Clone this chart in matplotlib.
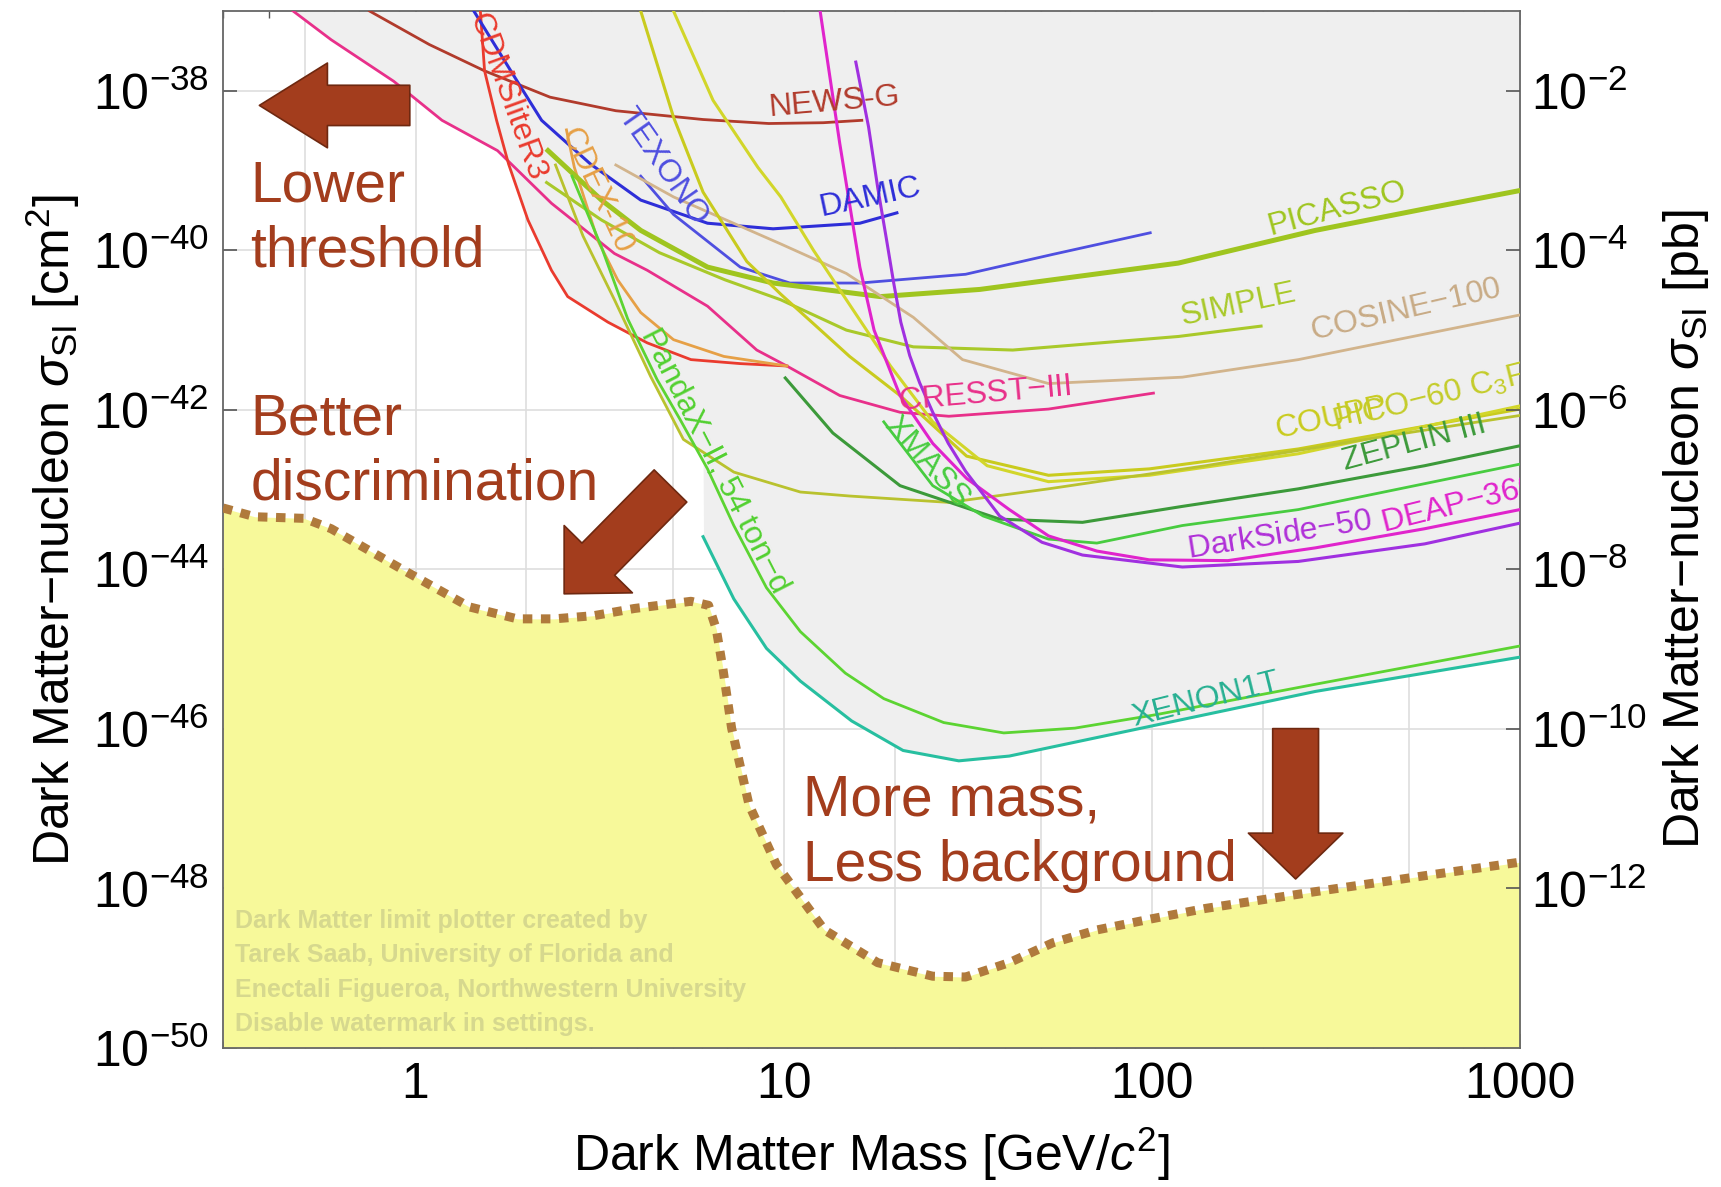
import numpy as np
import matplotlib.pyplot as plt
from matplotlib.patches import FancyArrowPatch
from matplotlib.ticker import LogLocator, NullLocator, NullFormatter

plt.rcParams['font.family'] = ['Liberation Sans', 'DejaVu Sans']
plt.rcParams['mathtext.fontset'] = 'custom'
plt.rcParams['mathtext.rm'] = 'Liberation Sans'
plt.rcParams['mathtext.it'] = 'Liberation Sans:italic'
plt.rcParams['mathtext.bf'] = 'Liberation Sans:bold'

# limits: WIMP mass [GeV/c^2] and log10 of sigma_SI [cm^2]
newsg_m = [0.75, 1.09, 1.54, 2.32, 3.50, 6.04, 9.11, 12.8, 16.3]
newsg_s = [-37.0, -37.42, -37.75, -38.08, -38.25, -38.36, -38.41, -38.40, -38.37]

cresst_m = [0.465, 0.59, 0.872, 1.18, 1.67, 2.34, 3.47, 4.26, 6.21, 8.45, 10.2, 14.2, 20.7, 28.1, 52.4, 101]
cresst_s = [-37.0, -37.36, -37.88, -38.37, -38.75, -39.41, -40.04, -40.25, -40.70, -41.25, -41.45,
            -41.82, -42.03, -42.08, -41.99, -41.79]

cdmslite_m = [1.50, 1.54, 1.66, 1.79, 2.02, 2.34, 2.59, 3.33, 4.26, 5.60, 7.62, 10.2]
cdmslite_s = [-37.0, -37.75, -38.37, -38.92, -39.62, -40.25, -40.58, -40.90, -41.16, -41.37, -41.42, -41.45]

damic_m = [1.44, 1.96, 2.20, 2.99, 4.09, 6.21, 9.36, 16.1, 20.3]
damic_s = [-37.0, -38.0, -38.37, -38.92, -39.37, -39.66, -39.73, -39.66, -39.53]

texono_m = [4.09, 5.02, 7.62, 10.4, 16.1, 31.2, 53.9, 99.0]
texono_s = [-39.07, -39.55, -40.21, -40.41, -40.41, -40.30, -40.05, -39.78]

cdex_m = [2.57, 2.70, 3.13, 3.54, 4.09, 5.02, 6.88, 10.2]
cdex_s = [-38.49, -38.96, -39.88, -40.37, -40.78, -41.12, -41.33, -41.45]

picasso_m = [2.29, 3.20, 4.09, 6.21, 9.36, 18.3, 34.1, 118, 278, 551, 1000]
picasso_s = [-38.75, -39.37, -39.75, -40.21, -40.41, -40.58, -40.49, -40.16, -39.75, -39.48, -39.25]

simple_m = [2.27, 3.20, 4.60, 6.93, 9.82, 14.8, 22.5, 41.9, 118, 198]
simple_s = [-39.15, -39.62, -40.03, -40.37, -40.62, -41.00, -41.21, -41.25, -41.08, -40.95]

cosine_m = [3.50, 5.02, 9.82, 14.8, 22.5, 30.6, 52.4, 121, 250, 551, 1000]
cosine_s = [-38.93, -39.33, -39.92, -40.29, -40.84, -41.37, -41.67, -41.59, -41.37, -41.05, -40.81]

coupp_m = [4.09, 5.02, 6.04, 7.94, 9.82, 12.05, 15.1, 20.7, 31.4, 52.4, 98.4, 250, 1000]
coupp_s = [-37.0, -38.33, -39.27, -40.14, -40.55, -40.92, -41.33, -41.82, -42.58, -42.82, -42.74, -42.49, -41.99]

pico_c3f8_m = [5.02, 6.43, 8.51, 9.82, 12.05, 14.8, 19.5, 25.4, 35.7, 52.4, 98.4, 250, 1000]
pico_c3f8_s = [-37.0, -38.12, -38.96, -39.33, -40.0, -40.62, -41.45, -42.15, -42.70, -42.90, -42.82, -42.55,
               -41.95]

pico_cf3i_m = [2.40, 2.85, 3.47, 4.35, 5.34, 7.32, 11.1, 15.1, 28.1, 52.4, 140, 392, 1000]
pico_cf3i_s = [-38.93, -39.82, -40.62, -41.58, -42.37, -42.78, -43.03, -43.08, -43.16, -42.99, -42.70, -42.36,
               -42.07]

pandax_m = [2.66, 3.20, 3.77, 4.53, 5.23, 6.21, 7.32, 8.98, 11.1, 14.7, 18.7, 27.2, 39.6, 61.8, 103, 278, 1000]
pandax_s = [-39.07, -39.96, -40.86, -41.62, -42.12, -42.74, -43.45, -44.23, -44.78, -45.30, -45.62, -45.92,
            -46.05, -45.99, -45.82, -45.44, -44.96]

xenon_m = [6.04, 7.32, 8.98, 11.1, 15.3, 21.1, 29.9, 41.0, 103, 278, 1000]
xenon_s = [-43.59, -44.37, -44.99, -45.40, -45.90, -46.27, -46.40, -46.34, -45.95, -45.53, -45.10]

zeplin_m = [10.1, 13.6, 20.7, 38.6, 64.8, 121, 250, 551, 1000]
zeplin_s = [-41.60, -42.29, -42.95, -43.37, -43.41, -43.21, -42.99, -42.70, -42.45]

xmass_m = [18.7, 25.4, 34.8, 52.4, 70.9, 121, 250, 1000]
xmass_s = [-42.15, -42.95, -43.33, -43.62, -43.67, -43.45, -43.25, -42.68]

deap_m = [12.56, 14.2, 16.1, 17.6, 20.7, 25.4, 31.4, 41.0, 52.4, 70.9, 98.4, 161, 278, 551, 1000]
deap_s = [-37.0, -38.66, -40.21, -41.0, -41.82, -42.42, -42.86, -43.25, -43.58, -43.77, -43.88, -43.89,
          -43.73, -43.49, -43.25]

darkside_m = [15.7, 17.0, 18.0, 19.0, 19.9, 20.8, 22.0, 23.4, 25.4, 28.0, 31.2, 38.6, 50.3, 64.8, 121, 250,
              551, 1000]
darkside_s = [-37.64, -38.45, -39.21, -39.85, -40.41, -40.90, -41.32, -41.66, -42.03, -42.42, -42.77, -43.33,
              -43.66, -43.82, -43.97, -43.90, -43.68, -43.42]

# future discovery limit (neutrino floor)
floor_m = [0.30, 0.366, 0.498, 0.59, 0.92, 1.40, 1.89, 2.38, 3.05, 3.93, 5.60, 6.25, 6.56, 6.83, 7.22, 8.05,
           9.55, 12.9, 18.0, 25.4, 31.2, 41.0, 53.9, 70.9, 100, 140, 278, 551, 1000]
floor_s = [-43.23, -43.34, -43.36, -43.49, -44.0, -44.47, -44.62, -44.62, -44.58, -44.49, -44.40, -44.45,
           -44.75, -45.23, -45.99, -46.95, -47.70, -48.52, -48.93, -49.10, -49.11, -48.93, -48.68, -48.52,
           -48.38, -48.25, -48.04, -47.84, -47.67]

curves = [
    (newsg_m, newsg_s, '#b13b2c', 2.0),
    (cresst_m, cresst_s, '#e8308a', 2.0),
    (cdmslite_m, cdmslite_s, '#ea3b2e', 2.0),
    (damic_m, damic_s, '#2e2ed8', 2.2),
    (texono_m, texono_s, '#4f4fe0', 2.0),
    (cdex_m, cdex_s, '#e6a046', 2.0),
    (picasso_m, picasso_s, '#9fc51f', 3.6),
    (simple_m, simple_s, '#a9c92a', 2.2),
    (cosine_m, cosine_s, '#d2b48c', 2.0),
    (coupp_m, coupp_s, '#c9cb1e', 2.2),
    (pico_c3f8_m, pico_c3f8_s, '#d2d62a', 2.2),
    (pico_cf3i_m, pico_cf3i_s, '#b9c22e', 2.0),
    (pandax_m, pandax_s, '#5cd432', 2.0),
    (xenon_m, xenon_s, '#27bfa0', 2.2),
    (zeplin_m, zeplin_s, '#3c9a3a', 2.2),
    (xmass_m, xmass_s, '#48cc40', 2.0),
    (deap_m, deap_s, '#e024cc', 2.2),
    (darkside_m, darkside_s, '#a030e0', 2.2),
]

fig = plt.figure(figsize=(17.21, 11.87), dpi=100)
ax = fig.add_axes([0.1296, 0.1171, 0.7536, 0.8736])
ax.set_xscale('log')
ax.set_yscale('log')
ax.set_xlim(0.3, 1000)
ax.set_ylim(1e-50, 1e-37)
ax.set_axisbelow(True)

# grey region: everything above the lowest existing limit
grid = np.linspace(np.log10(0.3), 3, 3000)
env = np.full_like(grid, np.inf)
for m, s, _, _ in curves:
    lm = np.log10(m)
    inside = (grid >= lm[0]) & (grid <= lm[-1])
    env[inside] = np.minimum(env[inside], np.interp(grid[inside], lm, s))
env = np.minimum(env, -37.0)
ax.fill_between(10 ** grid, 10 ** env, 1e-37, color='#efefef', lw=0, zorder=1)

# yellow region below the neutrino floor
fm = np.array(floor_m)
fs = 10.0 ** np.array(floor_s)
ax.fill_between(fm, 1e-50, fs, color='#f7f99a', lw=0, zorder=1)

for m, s, c, lw in curves:
    ax.plot(m, 10.0 ** np.array(s), color=c, lw=lw, zorder=3, solid_joinstyle='round')

ax.plot(fm, fs, color='#b07a3c', lw=6.5, dashes=(1.05, 0.95), dash_capstyle='butt', zorder=4)

# grid
for gx in [0.5, 1, 2, 5, 10, 20, 50, 100, 200, 500]:
    ax.axvline(gx, color='#dedede', lw=1.2, zorder=0)
for gy in 10.0 ** np.arange(-48, -37, 2):
    ax.axhline(gy, color='#dedede', lw=1.2, zorder=0)

# ticks
ax.set_xticks([1, 10, 100, 1000])
ax.set_xticklabels(['1', '10', '100', '1000'])
ax.xaxis.set_minor_locator(LogLocator(base=10, subs=np.arange(2, 10)))
ax.xaxis.set_minor_formatter(NullFormatter())
yt = np.arange(-50, -37, 2)
ax.set_yticks(10.0 ** yt)
ax.set_yticklabels([r'$10^{%d}$' % e for e in yt])
ax.yaxis.set_minor_locator(NullLocator())
ax.tick_params(which='both', direction='in', top=True, color='#555555', labelsize=36, pad=10)
ax.tick_params(which='major', length=10, width=1.2)
ax.tick_params(which='minor', length=5, width=1.0)
for sp in ax.spines.values():
    sp.set_color('#666666')
    sp.set_linewidth(1.3)

ax.set_xlabel(r'Dark Matter Mass [GeV/$c^2$]', fontsize=36, labelpad=12)
ax.set_ylabel(r'Dark Matter$-$nucleon $\sigma_{\rm SI}$ [cm$^2$]', fontsize=36, labelpad=8)

ax2 = ax.twinx()
ax2.set_yscale('log')
ax2.set_ylim(1e-14, 1e-1)
yt2 = np.arange(-12, -1, 2)
ax2.set_yticks(10.0 ** yt2)
ax2.set_yticklabels([r'$10^{%d}$' % e for e in yt2])
ax2.yaxis.set_minor_locator(NullLocator())
ax2.tick_params(direction='in', length=10, width=1.2, color='#555555', labelsize=36, pad=8)
ax2.set_ylabel(r'Dark Matter$-$nucleon $\sigma_{\rm SI}$ [pb]', fontsize=36, labelpad=10)
for sp in ax2.spines.values():
    sp.set_visible(False)

# curve labels
labels = [
    ('NEWS-G', 13.7, -38.14, 5, '#b13b2c'),
    ('DAMIC', 17.2, -39.34, 12, '#2e2ed8'),
    ('TEXONO', 4.69, -38.95, -55, '#4f4fe0'),
    ('CDMSliteR3', 1.77, -38.08, -70, '#ea3b2e'),
    ('CDEX-10', 3.09, -39.25, -65, '#e6a046'),
    ('PICASSO', 319, -39.48, 15, '#9fc51f'),
    ('SIMPLE', 172, -40.68, 12, '#a9c92a'),
    ('COSINE$-$100', 491, -40.75, 13, '#c8ab86'),
    ('CRESST$-$III', 35, -41.81, 5, '#e8308a'),
    ('COUPP', 308, -42.11, 12, '#c9cb1e'),
    ('PICO$-$60 C$_3$F$_8$', 590, -41.84, 14, '#c4cc2a'),
    ('ZEPLIN III', 515, -42.42, 15, '#3c9a3a'),
    ('XMASS', 24.5, -42.66, -48, '#48cc40'),
    ('DarkSide$-$50', 222, -43.57, 9, '#b030d8'),
    ('DEAP$-$3600', 720, -43.16, 14, '#e024cc'),
    ('XENON1T', 140, -45.64, 14, '#27b092'),
    ('PandaX$-$II, 54 ton$-$d', 6.47, -42.63, -63, '#52d030'),
]
for txt, lx, ly, rot, c in labels:
    ax.text(lx, 10.0 ** ly, txt, color=c, fontsize=23, rotation=rot, ha='center', va='center',
            rotation_mode='anchor', zorder=5, clip_on=True)

ax.text(0.009, 0.134,
        'Dark Matter limit plotter created by\nTarek Saab, University of Florida and\n'
        'Enectali Figueroa, Northwestern University\nDisable watermark in settings.',
        transform=ax.transAxes, fontsize=18, fontweight='bold', color='#d6d88e',
        linespacing=1.55, va='top', ha='left', zorder=2)

# annotations
brown = '#a33d1d'
ax.text(0.021, 0.857, 'Lower\nthreshold', transform=ax.transAxes, fontsize=41, color=brown,
        va='top', ha='left', linespacing=1.27, zorder=6)
ax.text(0.021, 0.632, 'Better\ndiscrimination', transform=ax.transAxes, fontsize=41, color=brown,
        va='top', ha='left', linespacing=1.27, zorder=6)
ax.text(0.447, 0.265, 'More mass,\nLess background', transform=ax.transAxes, fontsize=41, color=brown,
        va='top', ha='left', linespacing=1.27, zorder=6)

arrows = [
    ((0.144, 0.909), (0.028, 0.909), 49, 61, 29),
    ((0.345, 0.542), (0.263, 0.438), 35, 69, 33),
    ((0.827, 0.308), (0.827, 0.163), 33, 68, 33),
]
for tail, tip, hl, hw, tw in arrows:
    ax.add_patch(FancyArrowPatch(tail, tip, transform=ax.transAxes,
                                 arrowstyle='simple,head_length=%g,head_width=%g,tail_width=%g' % (hl, hw, tw),
                                 mutation_scale=1, shrinkA=0, shrinkB=0, facecolor=brown,
                                 edgecolor='#6e2810', lw=1.2, zorder=6))

fig.savefig('out.png', dpi=100)
